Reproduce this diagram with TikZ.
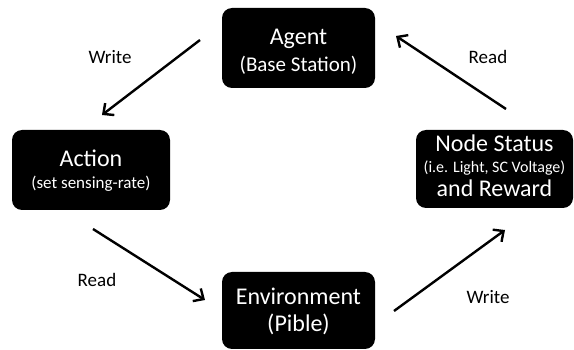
\documentclass[tikz,border=0pt]{standalone}
\usepackage{fontspec}
\setmainfont{Carlito}
\usetikzlibrary{arrows.meta}
\tikzset{
  box/.style={fill=black, rounded corners=10pt, text=white, inner sep=0pt},
  conn/.style={line width=2.4pt, -{Straight Barb[length=8pt,width=15pt,line width=2.4pt]}},
  lbl/.style={font=\fontsize{19}{22}\selectfont, inner sep=0pt}
}
\begin{document}
\begin{tikzpicture}[x=1pt,y=-1pt]
\useasboundingbox (0,0) rectangle (574,350);
% boxes
\fill[box] (222,8) rectangle (375,88);
\fill[box] (12,130) rectangle (170,210);
\fill[box] (416,130) rectangle (573,208);
\fill[box] (222,272) rectangle (375,349);
% texts
\node[text=white, anchor=base] (agent) at (298.5,45) {\fontsize{24}{28}\selectfont Agent};
\node[text=white, anchor=base] (agent2) at (298.5,72) {\fontsize{21}{25}\selectfont (Base Station)};
\node[text=white, anchor=base] (action) at (91,167) {\fontsize{24}{28}\selectfont Action};
\node[text=white, anchor=base] (action2) at (91,189) {\fontsize{17}{20}\selectfont (set sensing-rate)};
\node[text=white, anchor=base] (status) at (494.5,152) {\fontsize{24}{28}\selectfont Node Status};
\node[text=white, anchor=base] (status2) at (494.5,173) {\fontsize{16}{19}\selectfont (i.e. Light, SC Voltage)};
\node[text=white, anchor=base] (status3) at (494.5,197) {\fontsize{24}{28}\selectfont and Reward};
\node[text=white, anchor=base] (env) at (298.5,305) {\fontsize{24}{28}\selectfont Environment};
\node[text=white, anchor=base] (env2) at (298.5,332) {\fontsize{24}{28}\selectfont (Pible)};
% connector endpoints
\coordinate (w1s) at (200,40);
\coordinate (w1e) at (102,115);
\coordinate (r1s) at (506,109);
\coordinate (r1e) at (396,36);
\coordinate (r2s) at (93,229);
\coordinate (r2e) at (205,300);
\coordinate (w2s) at (394,311);
\coordinate (w2e) at (505,230);
\draw[conn] (w1s) -- (w1e);
\draw[conn] (r1s) -- (r1e);
\draw[conn] (r2s) -- (r2e);
\draw[conn] (w2s) -- (w2e);
% labels
\node[lbl] (lw1) at (110,57) {Write};
\node[lbl] (lr1) at (488,57) {Read};
\node[lbl] (lr2) at (97,280) {Read};
\node[lbl] (lw2) at (488,297) {Write};
\end{tikzpicture}
\end{document}
